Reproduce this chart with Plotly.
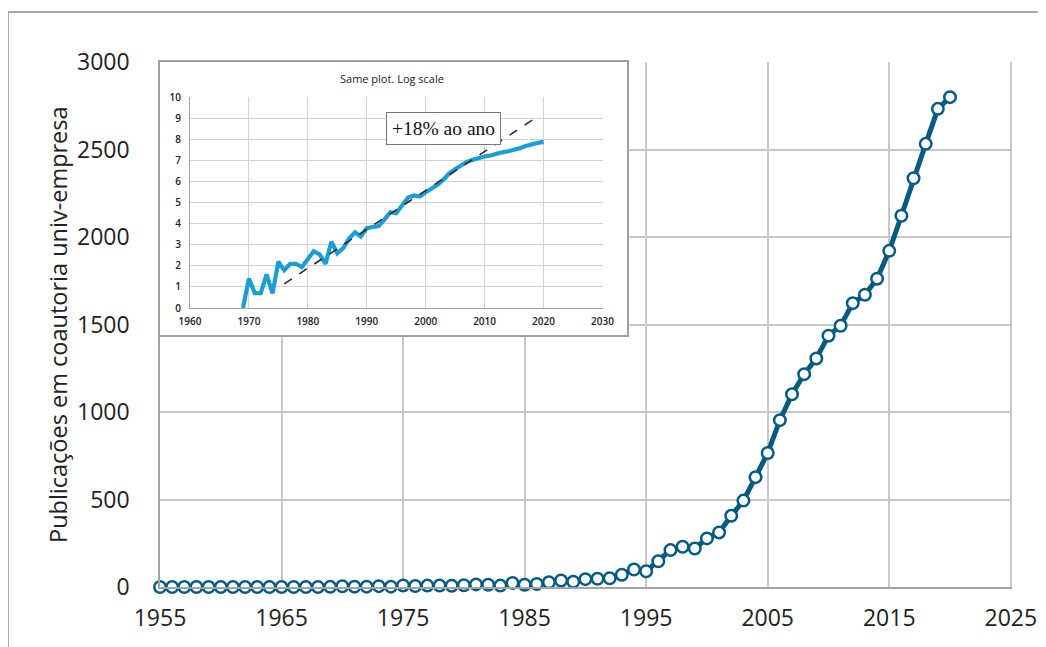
import plotly.graph_objects as go

W, H = 1046, 647
OFF = 8  # page body margin of the viewing browser

# ---- Main chart data (publications per year) ----
years = list(range(1955, 2021))
publications = [
    0, 0, 0, 0, 0, 0, 0, 0, 0, 0, 0, 0, 0, 0,          # 1955-1968
    1, 4, 2, 2, 5, 2, 9, 6, 8, 8, 7,                   # 1969-1979
    10, 15, 13, 8, 23, 13, 17, 27, 37, 30,             # 1980-1989
    45, 47, 50, 70, 100, 90, 147, 211, 230, 220,       # 1990-1999
    278, 312, 407, 494, 628, 766, 954, 1102, 1217, 1307,  # 2000-2009
    1437, 1494, 1623, 1671, 1763, 1922, 2123, 2337, 2534, 2734,  # 2010-2019
    2801,                                              # 2020
]
main_x_ticks = [1955, 1965, 1975, 1985, 1995, 2005, 2015, 2025]
main_y_ticks = [0, 500, 1000, 1500, 2000, 2500, 3000]

# ---- Inset data (log scale) ----
inset_years = list(range(1969, 2021))
inset_log = [
    0.0, 1.4, 0.7, 0.7, 1.6, 0.7, 2.2, 1.8, 2.1, 2.1, 1.95,     # 1969-1979
    2.3, 2.7, 2.55, 2.1, 3.15, 2.6, 2.85, 3.3, 3.6, 3.4,        # 1980-1989
    3.8, 3.85, 3.9, 4.2, 4.55, 4.5, 4.9, 5.25, 5.35, 5.3,       # 1990-1999
    5.5, 5.65, 5.85, 6.1, 6.4, 6.6, 6.8, 6.95, 7.05, 7.15,      # 2000-2009
    7.2, 7.25, 7.35, 7.4, 7.45, 7.5, 7.6, 7.7, 7.8, 7.85,       # 2010-2019
    7.9,                                                        # 2020
]
trend_years = [1976, 2019]
trend_values = [1.15, 9.1]
inset_x_ticks = [1960, 1970, 1980, 1990, 2000, 2010, 2020, 2030]
inset_y_ticks = list(range(0, 11))

MAIN_COLOR = "#045b80"
INSET_COLOR = "#1b9dd6"
FONT = "Open Sans"


def px_x(p):
    return (p - OFF) / W


def px_y(p):
    return 1 - (p - OFF) / H


fig = go.Figure()

fig.add_trace(go.Scatter(
    x=years, y=publications, mode="lines+markers",
    line=dict(color=MAIN_COLOR, width=5),
    marker=dict(symbol="circle", size=11.5, color="white",
                line=dict(color=MAIN_COLOR, width=2.5)),
    xaxis="x", yaxis="y", cliponaxis=False, hoverinfo="x+y",
))

# invisible trace to create the framed box subplot (background of inset)
fig.add_trace(go.Scatter(x=[0], y=[0], mode="markers", marker=dict(opacity=0),
                         xaxis="x2", yaxis="y2", hoverinfo="skip"))

fig.add_trace(go.Scatter(
    x=inset_years, y=inset_log, mode="lines",
    line=dict(color=INSET_COLOR, width=4.2),
    xaxis="x3", yaxis="y3", hoverinfo="x+y",
))
fig.add_trace(go.Scatter(
    x=trend_years, y=trend_values, mode="lines",
    line=dict(color="#2a2a2a", width=1.6, dash="dash"),
    xaxis="x3", yaxis="y3", hoverinfo="skip",
))

inset_tickfont = dict(family=FONT, size=10, color="#222222", weight=600)

fig.update_layout(
    template="none",
    width=W, height=H, autosize=False,
    margin=dict(l=0, r=0, t=0, b=0, pad=0),
    paper_bgcolor="white", plot_bgcolor="white",
    showlegend=False,
    font=dict(family=FONT, color="#222222"),
    xaxis=dict(
        domain=[px_x(160), px_x(1012)], range=[1955, 2025.1],
        tickmode="array", tickvals=main_x_ticks, automargin=False,
        showgrid=True, gridcolor="#c8c8c8", gridwidth=1.5,
        showline=True, linecolor="#a3a3a3", linewidth=1.5,
        ticks="outside", ticklen=10, tickcolor="rgba(0,0,0,0)",
        tickfont=dict(family=FONT, size=23, color="#222222"),
        zeroline=False, anchor="y",
    ),
    yaxis=dict(
        domain=[px_y(587), px_y(62)], range=[0, 3002],
        tickmode="array", tickvals=main_y_ticks, automargin=False,
        showgrid=True, gridcolor="#c8c8c8", gridwidth=1.5,
        showline=True, linecolor="#a3a3a3", linewidth=1.5,
        ticks="outside", ticklen=24, tickcolor="rgba(0,0,0,0)",
        tickfont=dict(family=FONT, size=23, color="#222222"),
        zeroline=False, anchor="x",
    ),
    xaxis2=dict(
        domain=[px_x(160), px_x(627)], range=[0, 1], automargin=False,
        showgrid=False, zeroline=False, showticklabels=False, ticks="",
        showline=True, mirror=True, linecolor="#a0a0a0", linewidth=1.5,
        anchor="y2",
    ),
    yaxis2=dict(
        domain=[px_y(335), px_y(62)], range=[0, 1], automargin=False,
        showgrid=False, zeroline=False, showticklabels=False, ticks="",
        showline=True, mirror=True, linecolor="#a0a0a0", linewidth=1.5,
        anchor="x2",
    ),
    xaxis3=dict(
        domain=[px_x(190), px_x(603)], range=[1960, 2030.1],
        tickmode="array", tickvals=inset_x_ticks, automargin=False,
        showgrid=True, gridcolor="#d2d2d2", gridwidth=1,
        showline=True, linecolor="#a3a3a3", linewidth=1.2,
        ticks="outside", ticklen=4, tickcolor="rgba(0,0,0,0)",
        tickfont=inset_tickfont,
        zeroline=False, anchor="y3",
    ),
    yaxis3=dict(
        domain=[px_y(308), px_y(97)], range=[0, 10.03],
        tickmode="array", tickvals=inset_y_ticks, automargin=False,
        showgrid=True, gridcolor="#d2d2d2", gridwidth=1,
        showline=True, linecolor="#a3a3a3", linewidth=1.2,
        ticks="outside", ticklen=6, tickcolor="rgba(0,0,0,0)",
        tickfont=inset_tickfont,
        zeroline=False, anchor="x3",
    ),
    shapes=[
        dict(type="rect", xref="paper", yref="paper",
             x0=px_x(8), x1=px_x(1070), y0=px_y(12), y1=px_y(680),
             line=dict(color="#8c8c8c", width=1.5), layer="below"),
    ],
    annotations=[
        dict(text="Publicações em coautoria univ-empresa", xref="paper", yref="paper",
             x=px_x(58), y=px_y(325), textangle=-90, showarrow=False,
             xanchor="center", yanchor="middle",
             font=dict(family=FONT, size=23.5, color="#222222")),
        dict(text="Same plot. Log scale", xref="paper", yref="paper",
             x=px_x(392), y=px_y(78), showarrow=False,
             xanchor="center", yanchor="middle",
             font=dict(family=FONT, size=11, color="#222222")),
        dict(text="+18% ao ano", xref="paper", yref="paper",
             x=px_x(443), y=px_y(128.5), showarrow=False,
             xanchor="center", yanchor="middle",
             bgcolor="white", bordercolor="#777777", borderwidth=1, borderpad=5,
             font=dict(family="Liberation Serif", size=19.5, color="#111111")),
    ],
)

fig.write_html("out.html")
